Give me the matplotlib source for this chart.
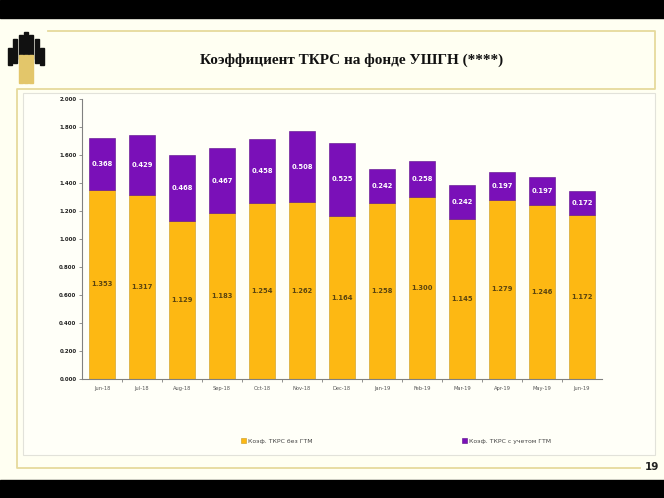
import matplotlib.pyplot as plt
from matplotlib.patches import Rectangle
from matplotlib.lines import Line2D

months = ['Jun-18', 'Jul-18', 'Aug-18', 'Sep-18', 'Oct-18', 'Nov-18', 'Dec-18',
          'Jan-19', 'Feb-19', 'Mar-19', 'Apr-19', 'May-19', 'Jun-19']
base = [1.353, 1.317, 1.129, 1.183, 1.254, 1.262, 1.164, 1.258, 1.300, 1.145, 1.279, 1.246, 1.172]
gtm = [0.368, 0.429, 0.468, 0.467, 0.458, 0.508, 0.525, 0.242, 0.258, 0.242, 0.197, 0.197, 0.172]
yticks = [0.0, 0.2, 0.4, 0.6, 0.8, 1.0, 1.2, 1.4, 1.6, 1.8, 2.0]

W, H = 664, 498
YELLOW = '#FDB813'
PURPLE = '#7A10B8'
BG = '#FFFFF2'
FRAME = '#E6DA9C'


def fx(x):
    return x / W


def fy(y):
    return 1 - y / H


fig = plt.figure(figsize=(6.64, 4.98), dpi=100, facecolor=BG)

# black bands top and bottom
fig.patches.append(Rectangle((0, fy(18)), 1, 18 / H, transform=fig.transFigure, color='black', zorder=0))
fig.patches.append(Rectangle((0, 0), 1, 18 / H, transform=fig.transFigure, color='black', zorder=0))

# chart frame
fig.patches.append(Rectangle((fx(23), fy(455)), (655 - 23) / W, (455 - 93) / H, transform=fig.transFigure,
                             facecolor='#FFFFF8', edgecolor='#E2E2DA', lw=0.8, zorder=0))

# yellow slide lines
def fline(xs, ys):
    fig.lines.append(Line2D([fx(v) for v in xs], [fy(v) for v in ys], transform=fig.transFigure,
                            color=FRAME, lw=1.3, zorder=1))

fline([48, 655, 655, 17, 17, 640], [31, 31, 89, 89, 468, 468])

# logo (rough Rosneft mark)
logo_black = [(8, 12, 48, 65), (13, 17, 39, 63), (19, 23, 35, 59), (24, 28, 32, 55),
              (29, 33, 35, 59), (35, 39, 39, 63), (40, 44, 48, 65)]
for x0, x1, y0, y1 in logo_black:
    fig.patches.append(Rectangle((fx(x0), fy(y1)), (x1 - x0) / W, (y1 - y0) / H,
                                 transform=fig.transFigure, color='#111111', zorder=2))
for x0, x1 in [(19, 23), (24, 28), (29, 33)]:
    fig.patches.append(Rectangle((fx(x0), fy(83)), (x1 - x0) / W, (83 - 55) / H,
                                 transform=fig.transFigure, color='#E3C66A', zorder=3))

fig.text(fx(352), fy(60), 'Коэффициент ТКРС на фонде УШГН (****)', ha='center', va='center',
         fontsize=11, fontweight='bold', family='Liberation Serif', color='#111111')

ax = fig.add_axes([fx(82), fy(379), 520 / W, 280 / H], zorder=5)
ax.patch.set_alpha(0)
x = list(range(len(months)))
b1 = ax.bar(x, base, width=0.65, color=YELLOW, edgecolor='#C89A20', lw=0.4, label='Коэф. ТКРС без ГТМ')
b2 = ax.bar(x, gtm, bottom=base, width=0.65, color=PURPLE, edgecolor='#5A0A88', lw=0.4,
            label='Коэф. ТКРС с учетом ГТМ')

for i in x:
    ax.text(i, base[i] / 2, f'{base[i]:.3f}', ha='center', va='center', fontsize=4.9,
            fontweight='bold', color='#5A4410')
    ax.text(i, base[i] + gtm[i] / 2, f'{gtm[i]:.3f}', ha='center', va='center', fontsize=4.9,
            fontweight='bold', color='white')

ax.set_xlim(-0.5, len(months) - 0.5)
ax.set_ylim(0, 2.0)
ax.set_yticks(yticks)
ax.set_yticklabels([f'{v:.3f}' for v in yticks], fontsize=4.0, color='#222222', fontweight='bold')
ax.set_xticks(x)
ax.set_xticklabels(months, fontsize=3.7, color='#555555')
ax.set_xticks([i + 0.5 for i in x[:-1]], minor=True)
ax.tick_params(axis='x', which='major', length=0, pad=5)
ax.tick_params(axis='x', which='minor', length=2.5, color='#808080', width=0.6)
ax.tick_params(axis='y', length=2.5, color='#808080', width=0.6, pad=1.5)
for s in ['top', 'right']:
    ax.spines[s].set_visible(False)
for s in ['left', 'bottom']:
    ax.spines[s].set_color('#808080')
    ax.spines[s].set_linewidth(0.8)

fig.legend(handles=[b1, b2], loc='center', bbox_to_anchor=(fx(396), fy(441)), ncol=2,
           frameon=False, fontsize=4.4, handlelength=0.8, handleheight=0.8, handletextpad=0.3,
           columnspacing=24.5, labelcolor='#444444')

fig.text(fx(652), fy(467), '19', ha='center', va='center', fontsize=7.5, fontweight='bold',
         color='#222222')

fig.savefig('out.png', dpi=100, facecolor=BG)
